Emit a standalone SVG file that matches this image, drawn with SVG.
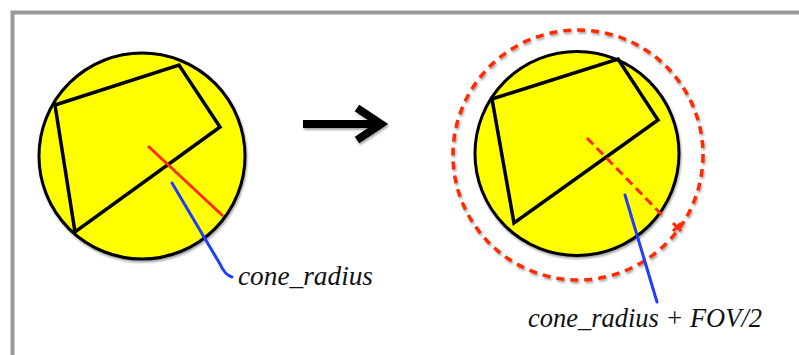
<svg xmlns="http://www.w3.org/2000/svg" width="799" height="355" viewBox="0 0 799 355">
<defs>
<filter id="sh" x="-10%" y="-10%" width="130%" height="130%">
<feDropShadow dx="1" dy="2" stdDeviation="1.2" flood-color="#000" flood-opacity="0.35"/>
</filter>
</defs>
<style>
.disk{fill:#ffff00;stroke:#000;stroke-width:3}
.quad{fill:none;stroke:#000;stroke-width:3.5;stroke-linejoin:miter}
.red{stroke:#ff2a00;stroke-width:3;fill:none}
.blue{stroke:#1f3cff;stroke-width:3;fill:none;stroke-linecap:round}
.lbl{font-family:"Liberation Serif",serif;font-style:italic;font-size:27px;fill:#111}
</style>
<rect x="0" y="0" width="799" height="355" fill="#fff"/>
<path d="M12.5 360 V12.5 H805" fill="none" stroke="#999" stroke-width="4"/>
<g id="left-cone" filter="url(#sh)">
<circle class="disk" cx="142" cy="156" r="103"/>
<polygon class="quad" points="55,105 179,65 220,127 75,232"/>
<line class="red" x1="148" y1="146" x2="223" y2="216"/>
</g>
<g id="arrow" filter="url(#sh)">
<line x1="303" y1="124" x2="378" y2="124" stroke="#000" stroke-width="8"/>
<polyline points="357,108 381,124 357,140" fill="none" stroke="#000" stroke-width="8" stroke-linejoin="miter"/>
</g>
<g id="right-cone" filter="url(#sh)">
<circle cx="578" cy="155" r="125" fill="none" stroke="#ff2a00" stroke-width="3.5" stroke-dasharray="8 6"/>
<circle class="disk" cx="577" cy="153.5" r="102"/>
<polygon class="quad" points="492,99 618,59 658,120 514,223"/>
<line class="red" x1="587" y1="138" x2="664" y2="217" stroke-dasharray="9 5"/>
<path class="red" d="M673 223 L681 231 M681 223 L673 231"/>
</g>
<g id="connectors">
<path class="blue" d="M172 183 L220 264 Q225 275 232 277"/>
<line class="blue" x1="625" y1="195" x2="657" y2="302"/>
</g>
<g id="labels">
<text class="lbl" x="238" y="285" textLength="135" lengthAdjust="spacingAndGlyphs">cone_radius</text>
<text class="lbl" x="528" y="327" textLength="234" lengthAdjust="spacingAndGlyphs">cone_radius + FOV/2</text>
</g>
</svg>
